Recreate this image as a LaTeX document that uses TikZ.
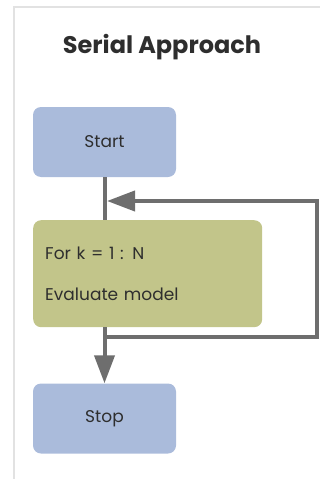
\documentclass[tikz,border=0pt]{standalone}
\usepackage{fontspec}
\setmainfont{Poppins}
\usetikzlibrary{arrows.meta,positioning}
\definecolor{startc}{HTML}{AABBDB}
\definecolor{loopc}{HTML}{C2C58A}
\definecolor{linec}{HTML}{6E6E6E}
\definecolor{framec}{HTML}{E2E2E2}
\definecolor{txtc}{HTML}{2E2E2E}
\tikzset{
  ln/.style={line width=4pt,linec},
  ar/.style={-{Triangle[length=28pt,width=20pt]},line width=4pt,linec},
  bx/.style={rounded corners=8pt,minimum width=143pt,minimum height=70pt,inner sep=0pt,text=txtc,font=\fontsize{17}{20}\selectfont}
}

\begin{document}
\begin{tikzpicture}[x=1pt,y=-1pt]
\useasboundingbox (0,0) rectangle (320,479);
\draw[framec,line width=1.5pt] (14,479)--(14,7)--(320,7);
\node[text=txtc,font=\bfseries\fontsize{24}{28}\selectfont] (title) at (162,47) {Serial Approach};
\node[bx,fill=startc] (start) at (104.5,142) {Start};
\node[bx,fill=loopc,anchor=north west,minimum width=229pt,minimum height=107pt,
  text width=205pt,align=left,font=\fontsize{17}{41}\selectfont] (loop) at (33,220) {For k = 1 : N\\Evaluate model};
\node[bx,fill=startc] (stop) at (104.5,418.5) {Stop};
\coordinate (fork) at (104.5,337);
\coordinate (back) at (107,201);
% main line
\draw[ln] (start.south) -- (start.south |- loop.north);
\draw[ar] (loop.south -| start.south) -- (stop.north);
% loop back
\draw[ar] (fork) -- ++(212.5,0) |- (back);
\end{tikzpicture}
\end{document}
